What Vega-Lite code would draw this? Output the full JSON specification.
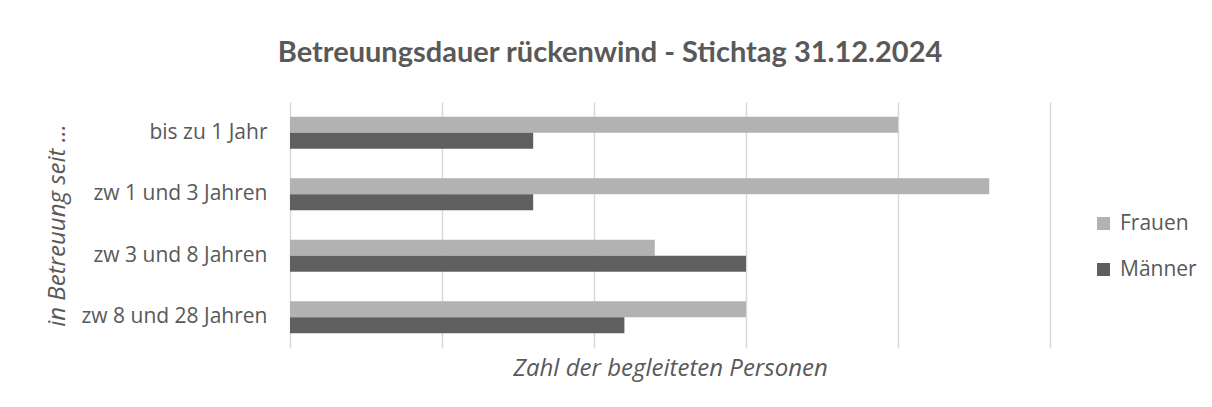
{
  "$schema": "https://vega.github.io/schema/vega-lite/v6.json",
  "autosize": {"type": "none"},
  "padding": {"left": 290, "top": 102, "right": 162, "bottom": 59},
  "width": 760,
  "height": 246,
  "background": "white",
  "title": {
    "text": "Betreuungsdauer rückenwind - Stichtag 31.12.2024",
    "font": "Lato",
    "fontSize": 29,
    "fontWeight": "bold",
    "color": "#595959",
    "anchor": "middle",
    "frame": "group",
    "dx": -60,
    "offset": 34
  },
  "data": {
    "values": [
      {"Dauer": "bis zu 1 Jahr", "Geschlecht": "Frauen", "Anzahl": 20},
      {"Dauer": "bis zu 1 Jahr", "Geschlecht": "Männer", "Anzahl": 8},
      {"Dauer": "zw 1 und 3 Jahren", "Geschlecht": "Frauen", "Anzahl": 23},
      {"Dauer": "zw 1 und 3 Jahren", "Geschlecht": "Männer", "Anzahl": 8},
      {"Dauer": "zw 3 und 8 Jahren", "Geschlecht": "Frauen", "Anzahl": 12},
      {"Dauer": "zw 3 und 8 Jahren", "Geschlecht": "Männer", "Anzahl": 15},
      {"Dauer": "zw 8 und 28 Jahren", "Geschlecht": "Frauen", "Anzahl": 15},
      {"Dauer": "zw 8 und 28 Jahren", "Geschlecht": "Männer", "Anzahl": 11}
    ]
  },
  "mark": {"type": "bar"},
  "encoding": {
    "y": {
      "field": "Dauer",
      "type": "nominal",
      "sort": ["bis zu 1 Jahr", "zw 1 und 3 Jahren", "zw 3 und 8 Jahren", "zw 8 und 28 Jahren"],
      "scale": {"paddingInner": 0.48, "paddingOuter": 0.24},
      "axis": {
        "title": "in Betreuung seit ...",
        "titleFont": "Open Sans",
        "titleFontSize": 24,
        "titleFontStyle": "italic",
        "titleFontWeight": "normal",
        "titleColor": "#595959",
        "titleAngle": -90,
        "titleAlign": "center",
        "titleBaseline": "middle",
        "titleX": -233,
        "titleY": 123,
        "labelFont": "Open Sans",
        "labelFontSize": 21,
        "labelColor": "#595959",
        "labelPadding": 23,
        "labelLimit": 300,
        "ticks": false,
        "tickSize": 0,
        "domain": false,
        "grid": false
      }
    },
    "yOffset": {
      "field": "Geschlecht",
      "type": "nominal",
      "sort": ["Frauen", "Männer"]
    },
    "x": {
      "field": "Anzahl",
      "type": "quantitative",
      "scale": {"domain": [0, 25], "nice": false},
      "axis": {
        "title": "Zahl der begleiteten Personen",
        "titleFont": "Open Sans",
        "titleFontSize": 24,
        "titleFontStyle": "italic",
        "titleFontWeight": "normal",
        "titleColor": "#595959",
        "titleAlign": "center",
        "titleBaseline": "alphabetic",
        "titleX": 380,
        "titleY": 27,
        "values": [0, 5, 10, 15, 20, 25],
        "labels": false,
        "ticks": false,
        "domain": false,
        "grid": true,
        "gridColor": "#d9d9d9",
        "gridWidth": 1.5
      }
    },
    "color": {
      "field": "Geschlecht",
      "type": "nominal",
      "sort": ["Frauen", "Männer"],
      "scale": {"domain": ["Frauen", "Männer"], "range": ["#b2b2b2", "#5f5f5f"]},
      "legend": {
        "title": null,
        "orient": "none",
        "legendX": 803,
        "legendY": 111,
        "padding": 0,
        "symbolType": "square",
        "symbolSize": 169,
        "symbolStrokeWidth": 0,
        "labelFont": "Open Sans",
        "labelFontSize": 21,
        "labelColor": "#595959",
        "labelOffset": 6,
        "rowPadding": 24
      }
    }
  },
  "config": {
    "view": {"stroke": null}
  }
}
